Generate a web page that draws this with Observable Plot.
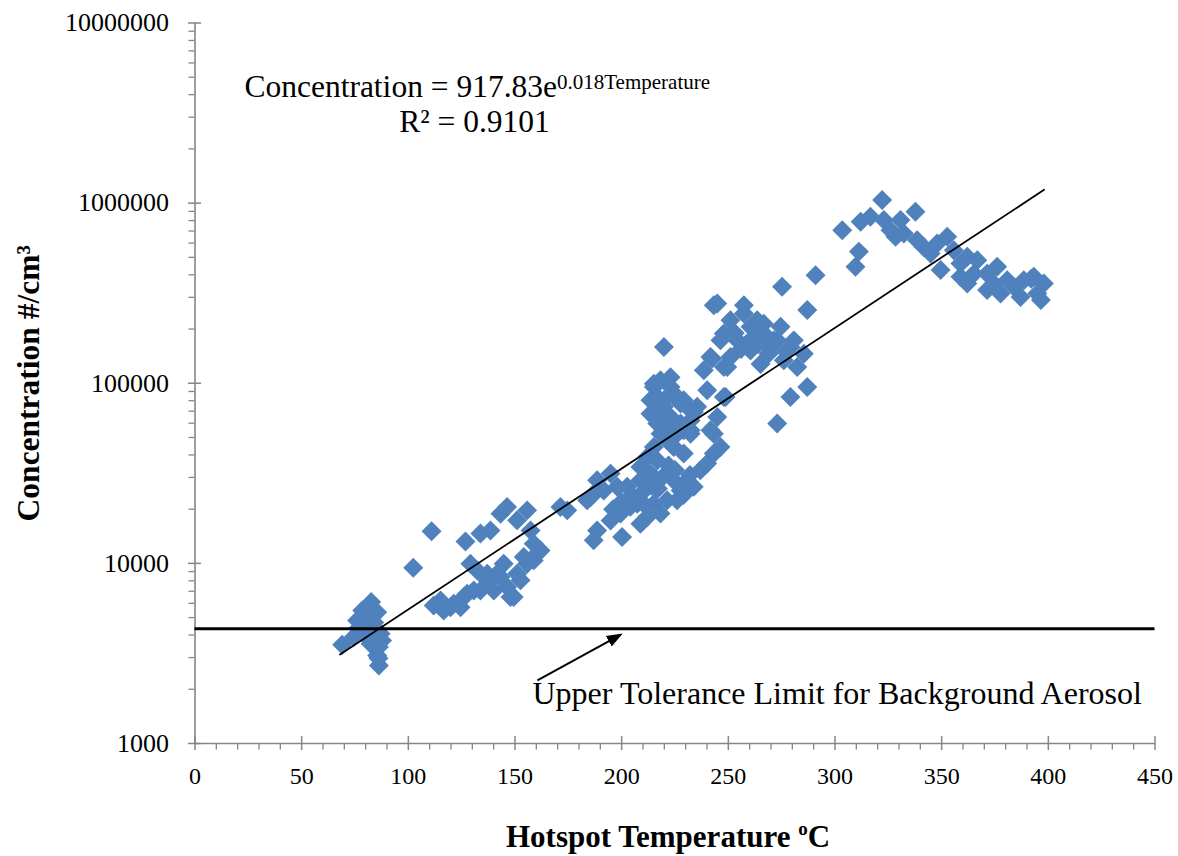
<!DOCTYPE html>
<html>
<head>
<meta charset="utf-8">
<script src="https://cdn.jsdelivr.net/npm/d3@7"></script>
<script src="https://cdn.jsdelivr.net/npm/@observablehq/plot@0.6"></script>
<style>
  html, body { margin: 0; padding: 0; background: #fff; }
  #chart svg { display: block; }
</style>
</head>
<body>
<div id="chart"></div>
<script>
// ---- Data ----
const temperature = [
  69,82.6,78.4,76,80.7,85.4,74.4,79.1,83.7,87,82.3,86.2,85.4,86.2,87.7,79.9,83.2,76.6,84.6,86,81.5,84,
  102.3,110.9,126.8,133.8,138.5,143.2,146.3,151,155.7,157.3,158.8,160.4,155.7,151,146.3,143.2,137,132.3,129.1,133.8,127.6,121.3,115.1,111.9,116.6,124.5,147.9,152.6,158.8,162,154.1,144.7,141.6,130.7,126,119.8,140.1,149.4,137,171.3,174.5,
  183.8,186.9,186.9,188.5,200.2,188.5,194.8,185.4,191.6,197.9,194.8,199.5,204.1,208.8,207.3,212,215.1,218.2,221.3,202.6,208.8,213.5,208.8,212,216.7,215.1,218.2,216.7,221.3,221.3,224.4,227.6,230.7,233.8,226,236.9,240.1,243.2,224.4,229.1,243.2,246.3,232.3,227.6,205,210,200,196,214,219,222,225,217,211,229,232,
  219.8,218.2,215.1,222.9,213.5,219.8,216.7,224.4,229.1,222.9,226,232.3,235.4,232.3,241.6,238.5,240.1,241.6,244.8,247.9,215.1,222.9,216.7,219.8,227.6,213.5,218.2,232.3,229.1,242.4,233.8,
  279.1,287,272.9,287,244.8,247.9,254.2,260.4,266.6,272.9,279.1,285.4,282.3,276,268.9,260.4,251,257.3,263.5,247.9,290.9,275.2,243.2,257.3,251,266.6,274.5,246.3,258.8,271.3,280.7,265.1,249.5,248.7,253,262,270,277,256,264,
  322.1,303.4,312,316.6,322.9,326,330.7,337.7,332.3,328.4,338.5,341.6,344.8,347.9,352.6,355.7,349.5,358.8,362,366.7,365.1,358.8,362,371.3,376,374.4,380.7,377.6,383.8,388.5,393.2,397.9,394.8,387,371.3,311.2,309.6,396.5,392
];
const concentration = [
  3530,6100,5480,4820,5040,5360,3900,4070,4430,4070,3580,3430,3080,2710,3730,4530,5140,4360,3830,2970,5700,4700,
  9460,15060,13240,14630,15240,18880,20560,17330,19690,15240,12850,11330,9950,8770,7400,8400,8050,9140,9950,7080,6790,5970,6230,5840,5480,5710,6500,8050,10390,11800,10840,9950,8770,7080,6500,5710,7080,6500,8770,20560,19690,
  22390,24360,13420,15240,14000,28900,31500,23300,25400,26600,17300,18900,20600,16600,21400,18100,21400,18900,22400,26600,28900,31500,34300,39000,37300,44300,52500,59700,48200,57100,28900,25400,28900,26600,22400,32900,35800,40700,44300,40700,52500,44300,54800,59700,23500,25000,22000,20000,27000,30000,35000,33000,26000,21000,24000,31000,
  159000,104000,95300,108000,80500,80500,67800,87700,80500,65000,52500,62200,74000,52500,140000,118000,91400,54800,65000,84000,99500,95300,84000,74000,77100,67800,59700,70800,54800,137000,69300,
  84000,95300,59700,255000,277000,189000,173000,206000,189000,173000,159000,146000,123000,134000,146000,152000,140000,244000,224000,123000,398000,343000,271000,271000,224000,214000,206000,173000,166000,173000,173000,128000,123000,84000,190000,180000,160000,150000,155000,165000,
  1040000,708000,787000,839000,805000,708000,805000,895000,678000,650000,622000,571000,525000,597000,650000,548000,425000,462000,504000,482000,406000,390000,358000,406000,443000,358000,373000,315000,343000,373000,390000,358000,315000,301000,329000,538000,443000,290000,380000
];

// Axis ticks
const xTicks = [0, 50, 100, 150, 200, 250, 300, 350, 400, 450];
const xMinorTicks = [10,20,30,40,60,70,80,90,110,120,130,140,160,170,180,190,210,220,230,240,260,270,280,290,310,320,330,340,360,370,380,390,410,420,430,440];
const yTicks = [1000, 10000, 100000, 1000000, 10000000];
const yMinorMultipliers = [2, 3, 4, 5, 6, 7, 8, 9];
const yMinorTicks = yTicks.slice(0, -1).flatMap(d => yMinorMultipliers.map(m => d * m));

// Trendline (from the equation shown on the chart)
const fitA = 917.83;
const fitB = 0.018;
const fitR2 = "0.9101";
const fitRange = [68, 398];

// Background limit
const upperToleranceLimit = 4330;

// Text
const equationMain = "Concentration = 917.83e";
const equationSup = "0.018Temperature";
const r2Text = "R² = " + fitR2;
const toleranceLabel = "Upper Tolerance Limit for Background Aerosol";
const xTitle = "Hotspot Temperature ";
const xTitleSup = "o";
const xTitleEnd = "C";
const yTitle = "Concentration #/cm³";

// ---- Build ----
const points = temperature.map((t, i) => ({t, c: concentration[i]}));
const trend = fitRange.map(t => ({t, c: fitA * Math.exp(fitB * t)}));

const W = 1178, H = 856;
const mL = 194.5, mR = 23.5, mT = 22.5, mB = 113;
const frameW = W - mL - mR, frameH = H - mT - mB;
const axisGray = "#868686";
const serif = "'Liberation Serif', 'Times New Roman', Times, serif";

const chart = Plot.plot({
  width: W,
  height: H,
  marginLeft: mL, marginRight: mR, marginTop: mT, marginBottom: mB,
  x: {domain: [0, 450], axis: null},
  y: {type: "log", domain: [1000, 10000000], axis: null},
  style: {fontFamily: serif, background: "#fff", color: "#000", overflow: "visible"},
  marks: [
    // minor ticks
    Plot.tickY(yMinorTicks, {y: d => d, insetLeft: -6, insetRight: frameW, stroke: axisGray, strokeWidth: 1.3}),
    Plot.tickX(xMinorTicks, {x: d => d, insetTop: frameH, insetBottom: -6.5, stroke: axisGray, strokeWidth: 1.3}),
    // major ticks (cross the axis)
    Plot.tickY(yTicks, {y: d => d, insetLeft: -6.5, insetRight: frameW - 6.5, stroke: axisGray, strokeWidth: 1.5}),
    Plot.tickX(xTicks, {x: d => d, insetTop: frameH - 7, insetBottom: -7, stroke: axisGray, strokeWidth: 1.5}),
    // axis lines
    Plot.ruleX([0], {stroke: axisGray, strokeWidth: 1.6}),
    Plot.ruleY([1000], {stroke: axisGray, strokeWidth: 1.6}),
    // tick labels
    Plot.text(yTicks, {y: d => d, frameAnchor: "left", dx: -26, text: d => String(d), textAnchor: "end", fontSize: 26, fill: "#000"}),
    Plot.text(xTicks, {x: d => d, frameAnchor: "bottom", dy: 40, text: d => String(d), textAnchor: "middle", fontSize: 24, fill: "#000"}),
    // data
    Plot.dot(points, {x: "t", y: "c", symbol: "diamond2", r: 9, fill: "#4f81bd", stroke: "none"}),
    // tolerance line
    Plot.ruleY([upperToleranceLimit], {stroke: "#000", strokeWidth: 3}),
    // trendline
    Plot.line(trend, {x: "t", y: "c", stroke: "#000", strokeWidth: 1.8}),
    // annotation arrow
    Plot.link([{x1: 160.5, y1: 2239, x2: 199.2, y2: 4000}], {x1: "x1", y1: "y1", x2: "x2", y2: "y2", stroke: "#000", strokeWidth: 2}),
    Plot.text([toleranceLabel], {x: 158.2, y: 1647, text: d => d, textAnchor: "start", lineAnchor: "bottom", fontSize: 32, fill: "#000"}),
    // equation
    Plot.text([equationMain], {x: 132.3, y: 3880000, text: d => d, textAnchor: "middle", lineAnchor: "bottom", fontSize: 31.5, fill: "#000"}),
    Plot.text([r2Text], {x: 131, y: 2490000, text: d => d, textAnchor: "middle", lineAnchor: "bottom", fontSize: 31.5, fill: "#000"}),
    // axis titles
    Plot.text([xTitle], {frameAnchor: "bottom", dx: -7, dy: 103, text: d => d, textAnchor: "middle", lineAnchor: "bottom", fontSize: 31, fontWeight: "bold", fill: "#000"}),
    Plot.text([yTitle], {frameAnchor: "left", dx: -166.5, text: d => d, rotate: -90, textAnchor: "middle", lineAnchor: "middle", fontSize: 31.5, fontWeight: "bold", fill: "#000"})
  ]
});

document.getElementById("chart").appendChild(chart);

// Rich text: superscripts and arrowhead
const svg = d3.select(chart);
const findText = s => svg.selectAll("text").filter(function() { return this.textContent === s; });

const eq = findText(equationMain);
eq.text(null);
eq.append("tspan").text(equationMain);
eq.append("tspan").attr("font-size", 21).attr("dy", -8.5).text(equationSup);

const xt = findText(xTitle);
xt.text(null);
xt.append("tspan").text(xTitle);
xt.append("tspan").attr("font-size", 19).attr("dy", -12).text(xTitleSup);
xt.append("tspan").attr("dy", 12).text(xTitleEnd);

const defs = svg.insert("defs", ":first-child");
defs.append("marker")
  .attr("id", "arrowFilled")
  .attr("viewBox", "0 0 10 10")
  .attr("refX", 8).attr("refY", 5)
  .attr("markerWidth", 8).attr("markerHeight", 8)
  .attr("markerUnits", "strokeWidth")
  .attr("orient", "auto")
  .append("path").attr("d", "M0,1.2L10,5L0,8.8z").attr("fill", "#000");
svg.selectAll('g[aria-label="link"] path').attr("marker-end", "url(#arrowFilled)");
</script>
</body>
</html>
